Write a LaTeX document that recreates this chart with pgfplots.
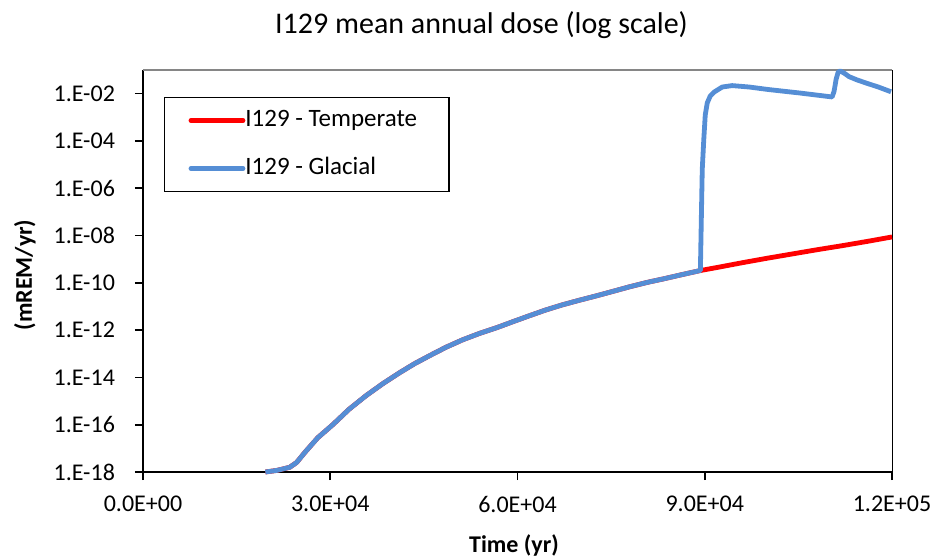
\documentclass[border=0pt]{standalone}
\usepackage{pgfplots}
\pgfplotsset{compat=1.18}
\usepackage{fontspec}
\setmainfont{Carlito}
\usetikzlibrary{calc}
\definecolor{glacial}{RGB}{85,142,213}
\definecolor{temperate}{RGB}{255,0,0}
\definecolor{topgray}{RGB}{134,134,134}

\pgfplotstableread{
t ly
19600 1.0e-18
21500 1.175e-18
23500 1.585e-18
24600 2.512e-18
26000 7.079e-18
28000 2.818e-17
30400 1.0e-16
33000 4.467e-16
35840 1.778e-15
38500 5.623e-15
41120 1.585e-14
43500 3.802e-14
45920 8.318e-14
48500 1.862e-13
51200 3.890e-13
54000 7.413e-13
56640 1.259e-12
59300 2.291e-12
61920 4.074e-12
64500 7.079e-12
67200 1.175e-11
70000 1.862e-11
72640 2.818e-11
75300 4.365e-11
77920 6.761e-11
80800 1.047e-10
83600 1.514e-10
86400 2.239e-10
89300 3.311e-10
92000 4.467e-10
96000 7.079e-10
100000 1.096e-9
104000 1.660e-9
108000 2.512e-9
112000 3.715e-9
116000 5.623e-9
120000 8.710e-9
}\temperate

\pgfplotstableread{
t ly
19600 1.0e-18
21500 1.175e-18
23500 1.585e-18
24600 2.512e-18
26000 7.079e-18
28000 2.818e-17
30400 1.0e-16
33000 4.467e-16
35840 1.778e-15
38500 5.623e-15
41120 1.585e-14
43500 3.802e-14
45920 8.318e-14
48500 1.862e-13
51200 3.890e-13
54000 7.413e-13
56640 1.259e-12
59300 2.291e-12
61920 4.074e-12
64500 7.079e-12
67200 1.175e-11
70000 1.862e-11
72640 2.818e-11
75300 4.365e-11
77920 6.761e-11
80800 1.047e-10
83600 1.514e-10
86400 2.239e-10
89300 3.311e-10
89450 5.012e-8
89600 6.310e-6
89840 1.096e-4
90080 1.259e-3
90400 4.074e-3
90880 7.943e-3
91520 1.175e-2
92800 1.905e-2
94400 2.188e-2
97120 1.905e-2
100320 1.479e-2
105120 1.072e-2
110400 7.244e-3
110720 1.259e-2
111040 3.981e-2
111360 7.943e-2
111680 9.120e-2
112320 7.413e-2
113120 5.248e-2
114400 3.802e-2
115840 2.818e-2
117920 1.862e-2
119840 1.202e-2
}\glacial

\begin{document}
\begin{tikzpicture}
\begin{axis}[
  scale only axis, width=374.5pt, height=201pt,
  ymode=log, xmin=0, xmax=120000, ymin=1e-18, ymax=1e-1,
  enlargelimits=false, clip=false,
  axis lines*=left,
  axis line style={black, line width=0.9pt},
  tick align=outside, major tick length=4pt,
  tick style={black, line width=0.8pt},
  minor tick num=0, yminorticks=false, xminorticks=false,
  scaled x ticks=false,
  xtick={0,30000,60000,90000,120000},
  xticklabels={0.0E+00,3.0E+04,6.0E+04,9.0E+04,1.2E+05},
  ytick={1e-18,1e-16,1e-14,1e-12,1e-10,1e-8,1e-6,1e-4,1e-2},
  yticklabels={1.E-18,1.E-16,1.E-14,1.E-12,1.E-10,1.E-08,1.E-06,1.E-04,1.E-02},
  ticklabel style={font=\fontsize{12}{14}\selectfont},
  yticklabel style={xshift=-6.5pt},
  xticklabel style={yshift=-4.5pt},
  legend cell align=left,
  legend style={at={(rel axis cs:0.028,0.9328)}, anchor=north west,
    draw=black, line width=0.6pt, fill=white,
    font=\fontsize{12.5}{14}\selectfont,
    inner xsep=12pt, inner ysep=5.5pt, row sep=12pt,
    nodes={inner xsep=0pt, inner ysep=0pt, text height=9pt, text depth=3pt}},
  legend image code/.code={\draw[#1, line width=2.4pt, line cap=round] (0pt,0pt) -- (26pt,0pt);},
]
\draw[topgray, line width=0.6pt] (rel axis cs:0,1) -- (rel axis cs:1,1);
\draw[black, line width=0.5pt] (rel axis cs:1,1) -- (rel axis cs:1,0);
\addplot[temperate, line width=2.4pt, line join=round] table[x=t, y=ly] {\temperate};
\addlegendentry{I129 - Temperate\hspace*{4pt}}
\addplot[glacial, line width=2.4pt, line join=round] table[x=t, y=ly] {\glacial};
\addlegendentry{I129 - Glacial}
\coordinate (sw) at (rel axis cs:0,0);
\coordinate (ne) at (rel axis cs:1,1);
\end{axis}
\node[anchor=base, font=\fontsize{15}{18}\selectfont] at ($(sw|-ne)+(169.25pt,18pt)$) {I129 mean annual dose (log scale)};
\node[anchor=base, font=\fontsize{12}{14}\selectfont\bfseries] at ($(sw)+(185.5pt,-40pt)$) {Time (yr)};
\node[anchor=base, rotate=90, font=\fontsize{12}{14}\selectfont\bfseries] at ($(sw)+(-55.5pt,98.5pt)$) {(mREM/yr)};
\pgfresetboundingbox
\useasboundingbox ($(sw)+(-71.5pt,-42pt)$) rectangle ($(ne)+(21pt,35pt)$);
\end{tikzpicture}
\end{document}
